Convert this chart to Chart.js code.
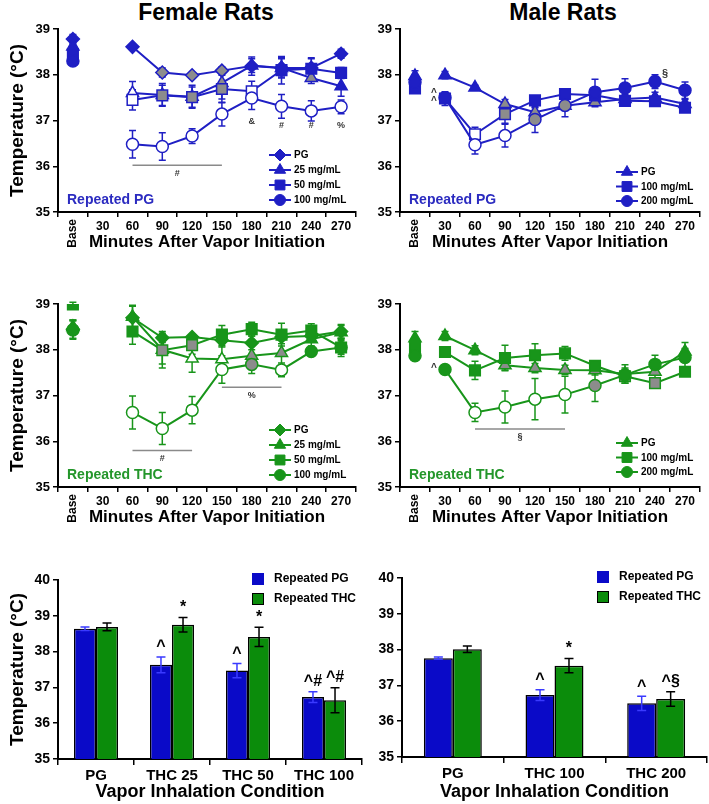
<!DOCTYPE html>
<html>
<head>
<meta charset="utf-8">
<script src="https://cdn.jsdelivr.net/npm/chart.js@4.4.0/dist/chart.umd.min.js"></script>
<style>
  body { margin: 0; background: #fff; width: 709px; height: 804px; position: relative; overflow: hidden;
         font-family: Arial, "Liberation Sans", sans-serif; }
  canvas { position: absolute; }
  .colTitle { position: absolute; top: 0; width: 220px; text-align: center; font-weight: bold;
              font-size: 23px; line-height: 24px; color: #000; }
</style>
</head>
<body>
<div class="colTitle" style="left:96px">Female Rats</div>
<div class="colTitle" style="left:453px">Male Rats</div>
<canvas id="fPG" width="365" height="255" style="left:0;top:0"></canvas>
<canvas id="mPG" width="354" height="255" style="left:355px;top:0"></canvas>
<canvas id="fTH" width="365" height="255" style="left:0;top:275px"></canvas>
<canvas id="mTH" width="354" height="255" style="left:355px;top:275px"></canvas>
<canvas id="fBar" width="365" height="254" style="left:0;top:550px"></canvas>
<canvas id="mBar" width="355" height="254" style="left:354px;top:550px"></canvas>
<script>
const timeLabels = ['Base', '30', '60', '90', '120', '150', '180', '210', '240', '270'];

// marker fill codes: f = filled, g = grey, o = open, - = no point

// Female rats, repeated PG
const fPG_pg  = [38.78, null, 38.61, 38.05, 37.99, 38.09, 38.19, 38.15, 38.15, 38.46];
const fPG_25  = [38.62, null, 37.60, 37.56, 37.52, 37.82, 38.20, 38.15, 37.93, 37.75];
const fPG_50  = [38.45, null, 37.45, 37.55, 37.51, 37.69, 37.64, 38.10, 38.13, 38.04];
const fPG_100 = [38.30, null, 36.48, 36.43, 36.66, 37.14, 37.49, 37.31, 37.21, 37.30];
const fPG_pgErr  = [0.10, null, 0.05, 0.10, 0.05, 0.05, 0.20, 0.20, 0.22, 0.10];
const fPG_25Err  = [0.10, null, 0.25, 0.25, 0.25, 0.35, 0.15, 0.22, 0.12, 0.22];
const fPG_50Err  = [0.10, null, 0.22, 0.22, 0.22, 0.30, 0.22, 0.30, 0.22, 0.12];
const fPG_100Err = [0.10, null, 0.30, 0.30, 0.16, 0.26, 0.25, 0.26, 0.22, 0.15];
const fPG_pgSig  = 'f-fgggffff';
const fPG_25Sig  = 'f-ogggffgf';
const fPG_50Sig  = 'f-ogggofff';
const fPG_100Sig = 'f-oooooooo';

// Male rats, repeated PG
const mPG_pg  = [37.97, 37.99, 37.72, 37.36, 37.18, 37.32, 37.40, 37.47, 37.50, 37.36];
const mPG_100 = [37.70, 37.48, 36.70, 37.14, 37.44, 37.58, 37.55, 37.43, 37.42, 37.28];
const mPG_200 = [37.84, 37.50, 36.47, 36.67, 37.02, 37.33, 37.62, 37.71, 37.85, 37.66];
const mPG_pgErr  = [0.12, 0.08, 0.05, 0.10, 0.10, 0.10, 0.10, 0.10, 0.12, 0.10];
const mPG_100Err = [0.08, 0.15, 0.15, 0.20, 0.10, 0.10, 0.10, 0.08, 0.10, 0.10];
const mPG_200Err = [0.08, 0.10, 0.20, 0.25, 0.28, 0.25, 0.28, 0.20, 0.15, 0.18];
const mPG_pgSig  = 'fffggfgfff';
const mPG_100Sig = 'ffogffffff';
const mPG_200Sig = 'ffooggffff';

// Female rats, repeated THC
const fTH_pg  = [38.45, null, 38.70, 38.26, 38.28, 38.21, 38.15, 38.28, 38.30, 38.40];
const fTH_25  = [38.50, null, 38.72, 38.00, 37.81, 37.79, 37.87, 37.93, 38.23, 38.38];
const fTH_50  = [38.99, null, 38.40, 37.99, 38.10, 38.33, 38.45, 38.33, 38.42, 38.05];
const fTH_100 = [38.43, null, 36.63, 36.28, 36.68, 37.57, 37.68, 37.56, 37.96, 38.05];
const fTH_pgErr  = [0.20, null, 0.25, 0.10, 0.05, 0.15, 0.15, 0.15, 0.12, 0.15];
const fTH_25Err  = [0.15, null, 0.25, 0.40, 0.30, 0.30, 0.30, 0.30, 0.15, 0.15];
const fTH_50Err  = [0.05, null, 0.28, 0.30, 0.20, 0.20, 0.15, 0.25, 0.15, 0.15];
const fTH_100Err = [0.20, null, 0.36, 0.35, 0.30, 0.30, 0.20, 0.15, 0.10, 0.20];
const fTH_pgSig  = 'f-ffffffff';
const fTH_25Sig  = 'f-fgooggff';
const fTH_50Sig  = 'f-fggfffff';
const fTH_100Sig = 'f-oooogoff';

// Male rats, repeated THC
const mTH_pg  = [38.25, 38.30, 37.99, 37.66, 37.60, 37.56, 37.55, 37.47, 37.52, 37.96];
const mTH_100 = [38.05, 37.95, 37.55, 37.82, 37.88, 37.92, 37.65, 37.42, 37.27, 37.52];
const mTH_200 = [37.87, 37.57, 36.63, 36.75, 36.92, 37.02, 37.22, 37.45, 37.68, 37.83];
const mTH_pgErr  = [0.15, 0.10, 0.10, 0.10, 0.10, 0.10, 0.10, 0.20, 0.15, 0.20];
const mTH_100Err = [0.10, 0.10, 0.20, 0.28, 0.25, 0.15, 0.10, 0.15, 0.10, 0.10];
const mTH_200Err = [0.05, 0.05, 0.20, 0.35, 0.45, 0.40, 0.35, 0.15, 0.20, 0.20];
const mTH_pgSig  = 'fffggggfgf';
const mTH_100Sig = 'fffffffggf';
const mTH_200Sig = 'ffoooogfff';

// bar panels
const fBarCats = ['PG', 'THC 25', 'THC 50', 'THC 100'];
const fBarPG     = [38.64, 37.63, 37.47, 36.73];
const fBarPGErr  = [0.05, 0.22, 0.20, 0.15];
const fBarTHC    = [38.69, 38.75, 38.41, 36.64];
const fBarTHCErr = [0.11, 0.20, 0.27, 0.35];
const fBarPGMarks  = ['', '^', '^', '^#'];
const fBarTHCMarks = ['', '*', '*', '^#'];

const mBarCats = ['PG', 'THC 100', 'THC 200'];
const mBarPG     = [37.76, 36.73, 36.50];
const mBarPGErr  = [0.03, 0.15, 0.20];
const mBarTHC    = [38.01, 37.55, 36.62];
const mBarTHCErr = [0.09, 0.20, 0.20];
const mBarPGMarks  = ['', '^', '^'];
const mBarTHCMarks = ['', '*', '^§'];

const FONT = 'Arial, "Liberation Sans", sans-serif';
const BLUE = '#1f1fc4', GREEN = '#18951a', GRAY = '#8c8c8c';
const BAR_BLUE = '#0a0ac8', BAR_GREEN = '#0b8c0b';
Chart.defaults.font.family = FONT;
Chart.defaults.color = '#000';

const panelExtras = {};

function fillFor(code, color) {
  if (code === 'o') return '#ffffff';
  if (code === 'g') return GRAY;
  return color;
}

function series(label, data, errors, sig, style, radius, color, order) {
  return {
    label: label,
    data: data,
    errors: errors,
    order: order,
    borderColor: color,
    backgroundColor: color,
    borderWidth: 2,
    pointStyle: style,
    pointRadius: radius,
    pointHoverRadius: radius,
    pointBorderWidth: 1.5,
    pointBorderColor: color,
    pointBackgroundColor: sig.split('').map(c => fillFor(c, color)),
    spanGaps: false,
    // the baseline point is not joined to the first session point
    segment: { borderColor: c => c.p0DataIndex === 0 ? 'rgba(0,0,0,0)' : color }
  };
}

function drawErrors(chart, cap) {
  const ctx = chart.ctx, ys = chart.scales.y;
  chart.data.datasets.forEach((ds, di) => {
    if (!ds.errors) return;
    const meta = chart.getDatasetMeta(di);
    ctx.save();
    ctx.strokeStyle = ds.errorColor || ds.borderColor;
    ctx.lineWidth = 1.5;
    ds.data.forEach((v, i) => {
      const e = ds.errors[i];
      if (v == null || !e) return;
      const px = meta.data[i].x;
      const top = ys.getPixelForValue(v + e), bot = ys.getPixelForValue(v - e);
      ctx.beginPath();
      ctx.moveTo(px, top); ctx.lineTo(px, bot);
      ctx.moveTo(px - cap, top); ctx.lineTo(px + cap, top);
      ctx.moveTo(px - cap, bot); ctx.lineTo(px + cap, bot);
      ctx.stroke();
    });
    ctx.restore();
  });
}

const extrasPlugin = {
  id: 'extras',
  beforeDatasetsDraw(chart) {
    const ex = panelExtras[chart.canvas.id];
    if (ex.kind === 'line') drawErrors(chart, 3.5);
  },
  afterDatasetsDraw(chart) {
    const ex = panelExtras[chart.canvas.id];
    if (ex.kind === 'bar') drawErrors(chart, 4.5);
  },
  afterDraw(chart) {
    const ex = panelExtras[chart.canvas.id];
    const ctx = chart.ctx, area = chart.chartArea;
    const xs = chart.scales.x, ys = chart.scales.y;
    ctx.save();

    if (ex.kind === 'line') {
      // rotated "Base" tick label
      ctx.save();
      ctx.translate(xs.getPixelForValue(0), xs.top + 7);
      ctx.rotate(-Math.PI / 2);
      ctx.textAlign = 'right';
      ctx.textBaseline = 'middle';
      ctx.font = 'bold 12px ' + FONT;
      ctx.fillStyle = '#000';
      ctx.fillText('Base', 0, 0);
      ctx.restore();

      // legend with line + marker
      chart.data.datasets.forEach((ds, i) => {
        const cx = area.right + ex.legend.dx;
        const cy = area.bottom + ex.legend.dy + i * ex.legend.step;
        ctx.strokeStyle = ds.borderColor;
        ctx.lineWidth = 2;
        ctx.beginPath(); ctx.moveTo(cx - 11, cy); ctx.lineTo(cx + 11, cy); ctx.stroke();
        ctx.fillStyle = ds.borderColor;
        ctx.lineWidth = 1;
        Chart.helpers.drawPoint(ctx, { pointStyle: ds.pointStyle, radius: ds.pointRadius - 0.5, rotation: 0, borderWidth: 1 }, cx, cy);
        ctx.fillStyle = '#000';
        ctx.font = 'bold 10px ' + FONT;
        ctx.textAlign = 'left';
        ctx.textBaseline = 'middle';
        ctx.fillText(ds.label, cx + 14, cy + 0.5);
      });

      // group label
      ctx.fillStyle = ex.tag.color;
      ctx.font = 'bold 14px ' + FONT;
      ctx.textAlign = 'left';
      ctx.textBaseline = 'middle';
      ctx.fillText(ex.tag.text, area.left + 9, area.bottom - 12);

      // significance spans
      (ex.sigBars || []).forEach(b => {
        const x1 = xs.getPixelForValue(b.from), x2 = xs.getPixelForValue(b.to);
        const y = ys.getPixelForValue(b.v);
        ctx.strokeStyle = '#8a8a8a';
        ctx.lineWidth = 1.5;
        ctx.beginPath(); ctx.moveTo(x1, y); ctx.lineTo(x2, y); ctx.stroke();
        ctx.fillStyle = '#333';
        ctx.font = 'bold 9px ' + FONT;
        ctx.textAlign = 'center';
        ctx.textBaseline = 'middle';
        ctx.fillText(b.t, (x1 + x2) / 2, y + 8);
      });

      // single-point notes
      (ex.notes || []).forEach(n => {
        ctx.fillStyle = '#333';
        ctx.font = 'bold ' + (n.size || 9) + 'px ' + FONT;
        ctx.textAlign = 'center';
        ctx.textBaseline = 'middle';
        ctx.fillText(n.t, xs.getPixelForValue(n.i) + (n.dx || 0), ys.getPixelForValue(n.v));
      });
    } else {
      // marks above bars
      chart.data.datasets.forEach((ds, di) => {
        const meta = chart.getDatasetMeta(di);
        ds.marks.forEach((m, i) => {
          if (!m) return;
          const y = ys.getPixelForValue(ds.data[i] + ds.errors[i]);
          ctx.fillStyle = '#000';
          ctx.font = 'bold 16px ' + FONT;
          ctx.textAlign = 'center';
          ctx.textBaseline = 'bottom';
          ctx.fillText(m, meta.data[i].x, y - 2);
        });
        // legend boxes
        const bx = area.right - 110, by = area.top - 1 + di * 20;
        ctx.fillStyle = ds.backgroundColor;
        ctx.fillRect(bx, by - 6, 12, 12);
        ctx.strokeStyle = ds.borderColor === '#000' && di === 0 ? ds.backgroundColor : '#000';
        ctx.lineWidth = 1;
        ctx.strokeRect(bx + 0.5, by - 5.5, 11, 11);
        ctx.fillStyle = '#000';
        ctx.font = 'bold 12px ' + FONT;
        ctx.textAlign = 'left';
        ctx.textBaseline = 'middle';
        ctx.fillText(ds.label, area.right - 88, by);
      });
    }
    ctx.restore();
  }
};

function axisCommon() {
  return {
    grid: { drawOnChartArea: false, drawTicks: true, tickLength: 5, color: '#000', lineWidth: 1.5 },
    border: { display: true, color: '#000', width: 2 }
  };
}

function lineChart(id, datasets, extras, withTitle, pad) {
  panelExtras[id] = extras;
  const x = axisCommon(), y = axisCommon();
  x.type = 'category';
  x.offset = true;
  x.grid.offset = true;
  x.ticks = { color: '#000', font: { size: 12, weight: 'bold' }, maxRotation: 0, autoSkip: false, padding: 2,
              callback: (v, i) => i === 0 ? '' : timeLabels[i] };
  x.title = { display: true, text: 'Minutes After Vapor Initiation', color: '#000',
              font: { size: 17, weight: 'bold' }, padding: { top: 0, bottom: 2 } };
  x.afterFit = s => { s.height = 43; };
  y.min = 35; y.max = 39;
  y.ticks = { stepSize: 1, color: '#000', font: { size: 13, weight: 'bold' }, padding: 3 };
  y.title = { display: withTitle, text: 'Temperature (°C)', color: '#000',
              font: { size: 19, weight: 'bold' }, padding: 0 };
  y.afterFit = s => { s.width = withTitle ? 52 : 45; };
  return new Chart(document.getElementById(id), {
    type: 'line',
    data: { labels: timeLabels, datasets: datasets },
    options: {
      responsive: false, animation: false, devicePixelRatio: 1,
      layout: { padding: pad },
      plugins: { legend: { display: false }, tooltip: { enabled: false } },
      scales: { x: x, y: y }
    },
    plugins: [extrasPlugin]
  });
}

function barChart(id, cats, datasets, withTitle, pad, yWidth, xHeight, catPct) {
  panelExtras[id] = { kind: 'bar' };
  const x = axisCommon(), y = axisCommon();
  x.grid.offset = true;
  x.grid.tickLength = 6;
  x.ticks = { color: '#000', font: { size: 15, weight: 'bold' }, maxRotation: 0, autoSkip: false, padding: 2 };
  x.title = { display: true, text: 'Vapor Inhalation Condition', color: '#000',
              font: { size: 18, weight: 'bold' }, padding: { top: 0, bottom: 1 } };
  x.afterFit = s => { s.height = xHeight; };
  y.min = 35; y.max = 40;
  y.ticks = { stepSize: 1, color: '#000', font: { size: 14, weight: 'bold' }, padding: 3 };
  y.title = { display: withTitle, text: 'Temperature (°C)', color: '#000',
              font: { size: 19, weight: 'bold' }, padding: 0 };
  y.afterFit = s => { s.width = yWidth; };
  datasets.forEach(ds => {
    ds.categoryPercentage = catPct;
    ds.barPercentage = 1.0;
    ds.borderWidth = 1.5;
  });
  return new Chart(document.getElementById(id), {
    type: 'bar',
    data: { labels: cats, datasets: datasets },
    options: {
      responsive: false, animation: false, devicePixelRatio: 1,
      layout: { padding: pad },
      plugins: { legend: { display: false }, tooltip: { enabled: false } },
      scales: { x: x, y: y }
    },
    plugins: [extrasPlugin]
  });
}

// ---- Female, repeated PG
lineChart('fPG', [
  series('PG', fPG_pg, fPG_pgErr, fPG_pgSig, 'rectRot', 6.5, BLUE, 3),
  series('25 mg/mL', fPG_25, fPG_25Err, fPG_25Sig, 'triangle', 7, BLUE, 2),
  series('50 mg/mL', fPG_50, fPG_50Err, fPG_50Sig, 'rect', 7.5, BLUE, 1),
  series('100 mg/mL', fPG_100, fPG_100Err, fPG_100Sig, 'circle', 6, BLUE, 0)
], {
  kind: 'line',
  legend: { dx: -76, dy: -57, step: 15 },
  tag: { text: 'Repeated PG', color: '#2b2bc0' },
  sigBars: [{ from: 2, to: 5, v: 36.02, t: '#' }],
  notes: [{ i: 6, v: 36.98, t: '&' }, { i: 7, v: 36.88, t: '#' }, { i: 8, v: 36.88, t: '#' }, { i: 9, v: 36.88, t: '%' }]
}, true, { left: 6, top: 29, right: 2, bottom: 0 });

// ---- Male, repeated PG
lineChart('mPG', [
  series('PG', mPG_pg, mPG_pgErr, mPG_pgSig, 'triangle', 7, BLUE, 2),
  series('100 mg/mL', mPG_100, mPG_100Err, mPG_100Sig, 'rect', 7.5, BLUE, 1),
  series('200 mg/mL', mPG_200, mPG_200Err, mPG_200Sig, 'circle', 6, BLUE, 0)
], {
  kind: 'line',
  legend: { dx: -73, dy: -40, step: 14.5 },
  tag: { text: 'Repeated PG', color: '#2b2bc0' },
  notes: [{ i: 8, v: 38.02, t: '§', dx: 10, size: 11 }, { i: 1, v: 37.6, t: '^', dx: -11, size: 10 }, { i: 1, v: 37.43, t: '^', dx: -11, size: 10 }]
}, false, { left: 0, top: 29, right: 9, bottom: 0 });

// ---- Female, repeated THC
lineChart('fTH', [
  series('PG', fTH_pg, fTH_pgErr, fTH_pgSig, 'rectRot', 6.5, GREEN, 3),
  series('25 mg/mL', fTH_25, fTH_25Err, fTH_25Sig, 'triangle', 7, GREEN, 2),
  series('50 mg/mL', fTH_50, fTH_50Err, fTH_50Sig, 'rect', 7.5, GREEN, 1),
  series('100 mg/mL', fTH_100, fTH_100Err, fTH_100Sig, 'circle', 6, GREEN, 0)
], {
  kind: 'line',
  legend: { dx: -76, dy: -57, step: 15 },
  tag: { text: 'Repeated THC', color: '#23962a' },
  sigBars: [{ from: 2, to: 4, v: 35.8, t: '#' }, { from: 5, to: 7, v: 37.18, t: '%' }]
}, true, { left: 6, top: 29, right: 2, bottom: 0 });

// ---- Male, repeated THC
lineChart('mTH', [
  series('PG', mTH_pg, mTH_pgErr, mTH_pgSig, 'triangle', 7, GREEN, 2),
  series('100 mg/mL', mTH_100, mTH_100Err, mTH_100Sig, 'rect', 7.5, GREEN, 1),
  series('200 mg/mL', mTH_200, mTH_200Err, mTH_200Sig, 'circle', 6, GREEN, 0)
], {
  kind: 'line',
  legend: { dx: -73, dy: -44, step: 14.5 },
  tag: { text: 'Repeated THC', color: '#23962a' },
  sigBars: [{ from: 2, to: 5, v: 36.27, t: '§' }],
  notes: [{ i: 1, v: 37.6, t: '^', dx: -11, size: 10 }]
}, false, { left: 0, top: 29, right: 9, bottom: 0 });

// ---- Bar panels
barChart('fBar', fBarCats, [
  { label: 'Repeated PG', data: fBarPG, errors: fBarPGErr, marks: fBarPGMarks,
    backgroundColor: BAR_BLUE, borderColor: '#000', errorColor: '#3a3aff' },
  { label: 'Repeated THC', data: fBarTHC, errors: fBarTHCErr, marks: fBarTHCMarks,
    backgroundColor: BAR_GREEN, borderColor: '#000', errorColor: '#000' }
], true, { left: 6, top: 30, right: 3, bottom: 0 }, 52, 45, 0.58);

barChart('mBar', mBarCats, [
  { label: 'Repeated PG', data: mBarPG, errors: mBarPGErr, marks: mBarPGMarks,
    backgroundColor: BAR_BLUE, borderColor: '#000', errorColor: '#3a3aff' },
  { label: 'Repeated THC', data: mBarTHC, errors: mBarTHCErr, marks: mBarTHCMarks,
    backgroundColor: BAR_GREEN, borderColor: '#000', errorColor: '#000' }
], false, { left: 0, top: 28, right: 2, bottom: 0 }, 48, 47, 0.57);
</script>
</body>
</html>
